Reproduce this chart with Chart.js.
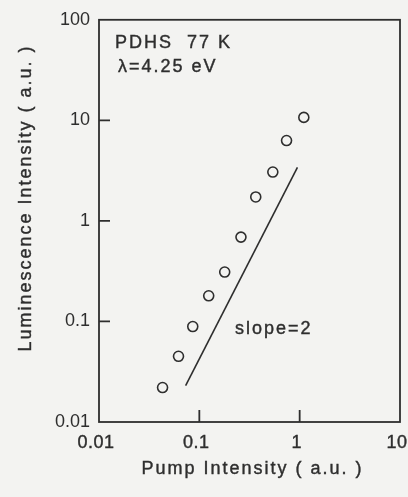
<!DOCTYPE html>
<html>
<head>
<meta charset="utf-8">
<script src="https://cdn.jsdelivr.net/npm/chart.js@4"></script>
<style>
  html, body { margin: 0; padding: 0; background: #f3f3f1; overflow: hidden; }
  canvas { display: block; }
</style>
</head>
<body>
<canvas id="pumpChart" width="408" height="497"></canvas>
<script>
// data (log-log)
const pumpIntensity = [0.043, 0.062, 0.086, 0.124, 0.179, 0.26, 0.365, 0.54, 0.74, 1.1];
const luminescence = [0.022, 0.045, 0.089, 0.18, 0.31, 0.69, 1.73, 3.06, 6.3, 10.7];
const slopeLineX = [0.073, 0.95];
const slopeLineY = [0.023, 3.4];
const xTicks = [0.01, 0.1, 1, 10];
const xTickLabels = ['0.01', '0.1', '1', '10'];
const yTicks = [0.01, 0.1, 1, 10, 100];

const ink = '#2e2e2e';
const font = '"Liberation Sans", Arial, Helvetica, sans-serif';

const frame = {
  id: 'frame',
  beforeDraw(chart) {
    const c = chart.ctx;
    c.save();
    c.fillStyle = '#f3f3f1';
    c.fillRect(0, 0, chart.width, chart.height);
    c.restore();
  },
  afterDraw(chart) {
    const c = chart.ctx;
    const a = chart.chartArea;
    const xs = chart.scales.x, ys = chart.scales.y;
    c.save();
    c.strokeStyle = ink;
    c.lineWidth = 1.8;
    c.strokeRect(a.left, a.top, a.right - a.left, a.bottom - a.top);
    // inward tick marks
    c.beginPath();
    yTicks.slice(1, -1).forEach(v => {
      const py = ys.getPixelForValue(v);
      c.moveTo(a.left, py);
      c.lineTo(a.left + 11, py);
    });
    xTicks.slice(1, -1).forEach(v => {
      const px = xs.getPixelForValue(v);
      c.moveTo(px, a.bottom);
      c.lineTo(px, a.bottom - 12);
    });
    c.stroke();

    c.fillStyle = ink;
    c.strokeStyle = ink;
    c.lineWidth = 0.4;
    c.font = '18px ' + font;
    c.textBaseline = 'middle';
    const put = (t, x, y) => { c.fillText(t, x, y); c.strokeText(t, x, y); };

    // x tick labels (drawn here so they don't eat into the plot width)
    c.textAlign = 'center';
    c.letterSpacing = '0.5px';
    xTicks.forEach((v, i) => {
      put(xTickLabels[i], xs.getPixelForValue(v) - 3, a.bottom + 21);
    });

    // texts
    c.letterSpacing = '2px';
    c.textAlign = 'left';
    put('PDHS  77 K', 115, 43);
    put('\u03bb=4.25 eV', 118, 67);
    put('slope=2', 235, 329);

    c.textAlign = 'center';
    put('Pump Intensity ( a.u. )', (a.left + a.right) / 2 + 3, 469);
    c.translate(26, 198);
    c.rotate(-Math.PI / 2);
    put('Luminescence Intensity ( a.u. )', 0, 0);
    c.restore();
  }
};

new Chart(document.getElementById('pumpChart'), {
  type: 'scatter',
  data: {
    datasets: [
      {
        label: 'data',
        data: pumpIntensity.map((x, i) => ({ x: x, y: luminescence[i] })),
        pointRadius: 5,
        pointBorderWidth: 1.6,
        pointBackgroundColor: 'rgba(0,0,0,0)',
        pointBorderColor: ink,
        showLine: false
      },
      {
        label: 'slope=2',
        data: slopeLineX.map((x, i) => ({ x: x, y: slopeLineY[i] })),
        showLine: true,
        borderColor: ink,
        borderWidth: 1.6,
        pointRadius: 0
      }
    ]
  },
  options: {
    responsive: false,
    animation: false,
    layout: { padding: { top: 18, right: 8, left: 0, bottom: 0 } },
    plugins: { legend: { display: false }, tooltip: { enabled: false } },
    scales: {
      x: {
        type: 'logarithmic',
        min: 0.01,
        max: 10,
        grid: { display: false, drawTicks: false },
        border: { display: false },
        afterBuildTicks: s => { s.ticks = xTicks.map(v => ({ value: v })); },
        afterFit: s => { s.height = 75; },
        ticks: { display: false }
      },
      y: {
        type: 'logarithmic',
        min: 0.01,
        max: 100,
        grid: { display: false, drawTicks: false },
        border: { display: false },
        afterBuildTicks: s => { s.ticks = yTicks.map(v => ({ value: v })); },
        afterFit: s => { s.width = 99; },
        ticks: {
          color: ink,
          padding: 9,
          font: { family: font, size: 18 },
          callback: v => String(v)
        }
      }
    }
  },
  plugins: [frame]
});
</script>
</body>
</html>
